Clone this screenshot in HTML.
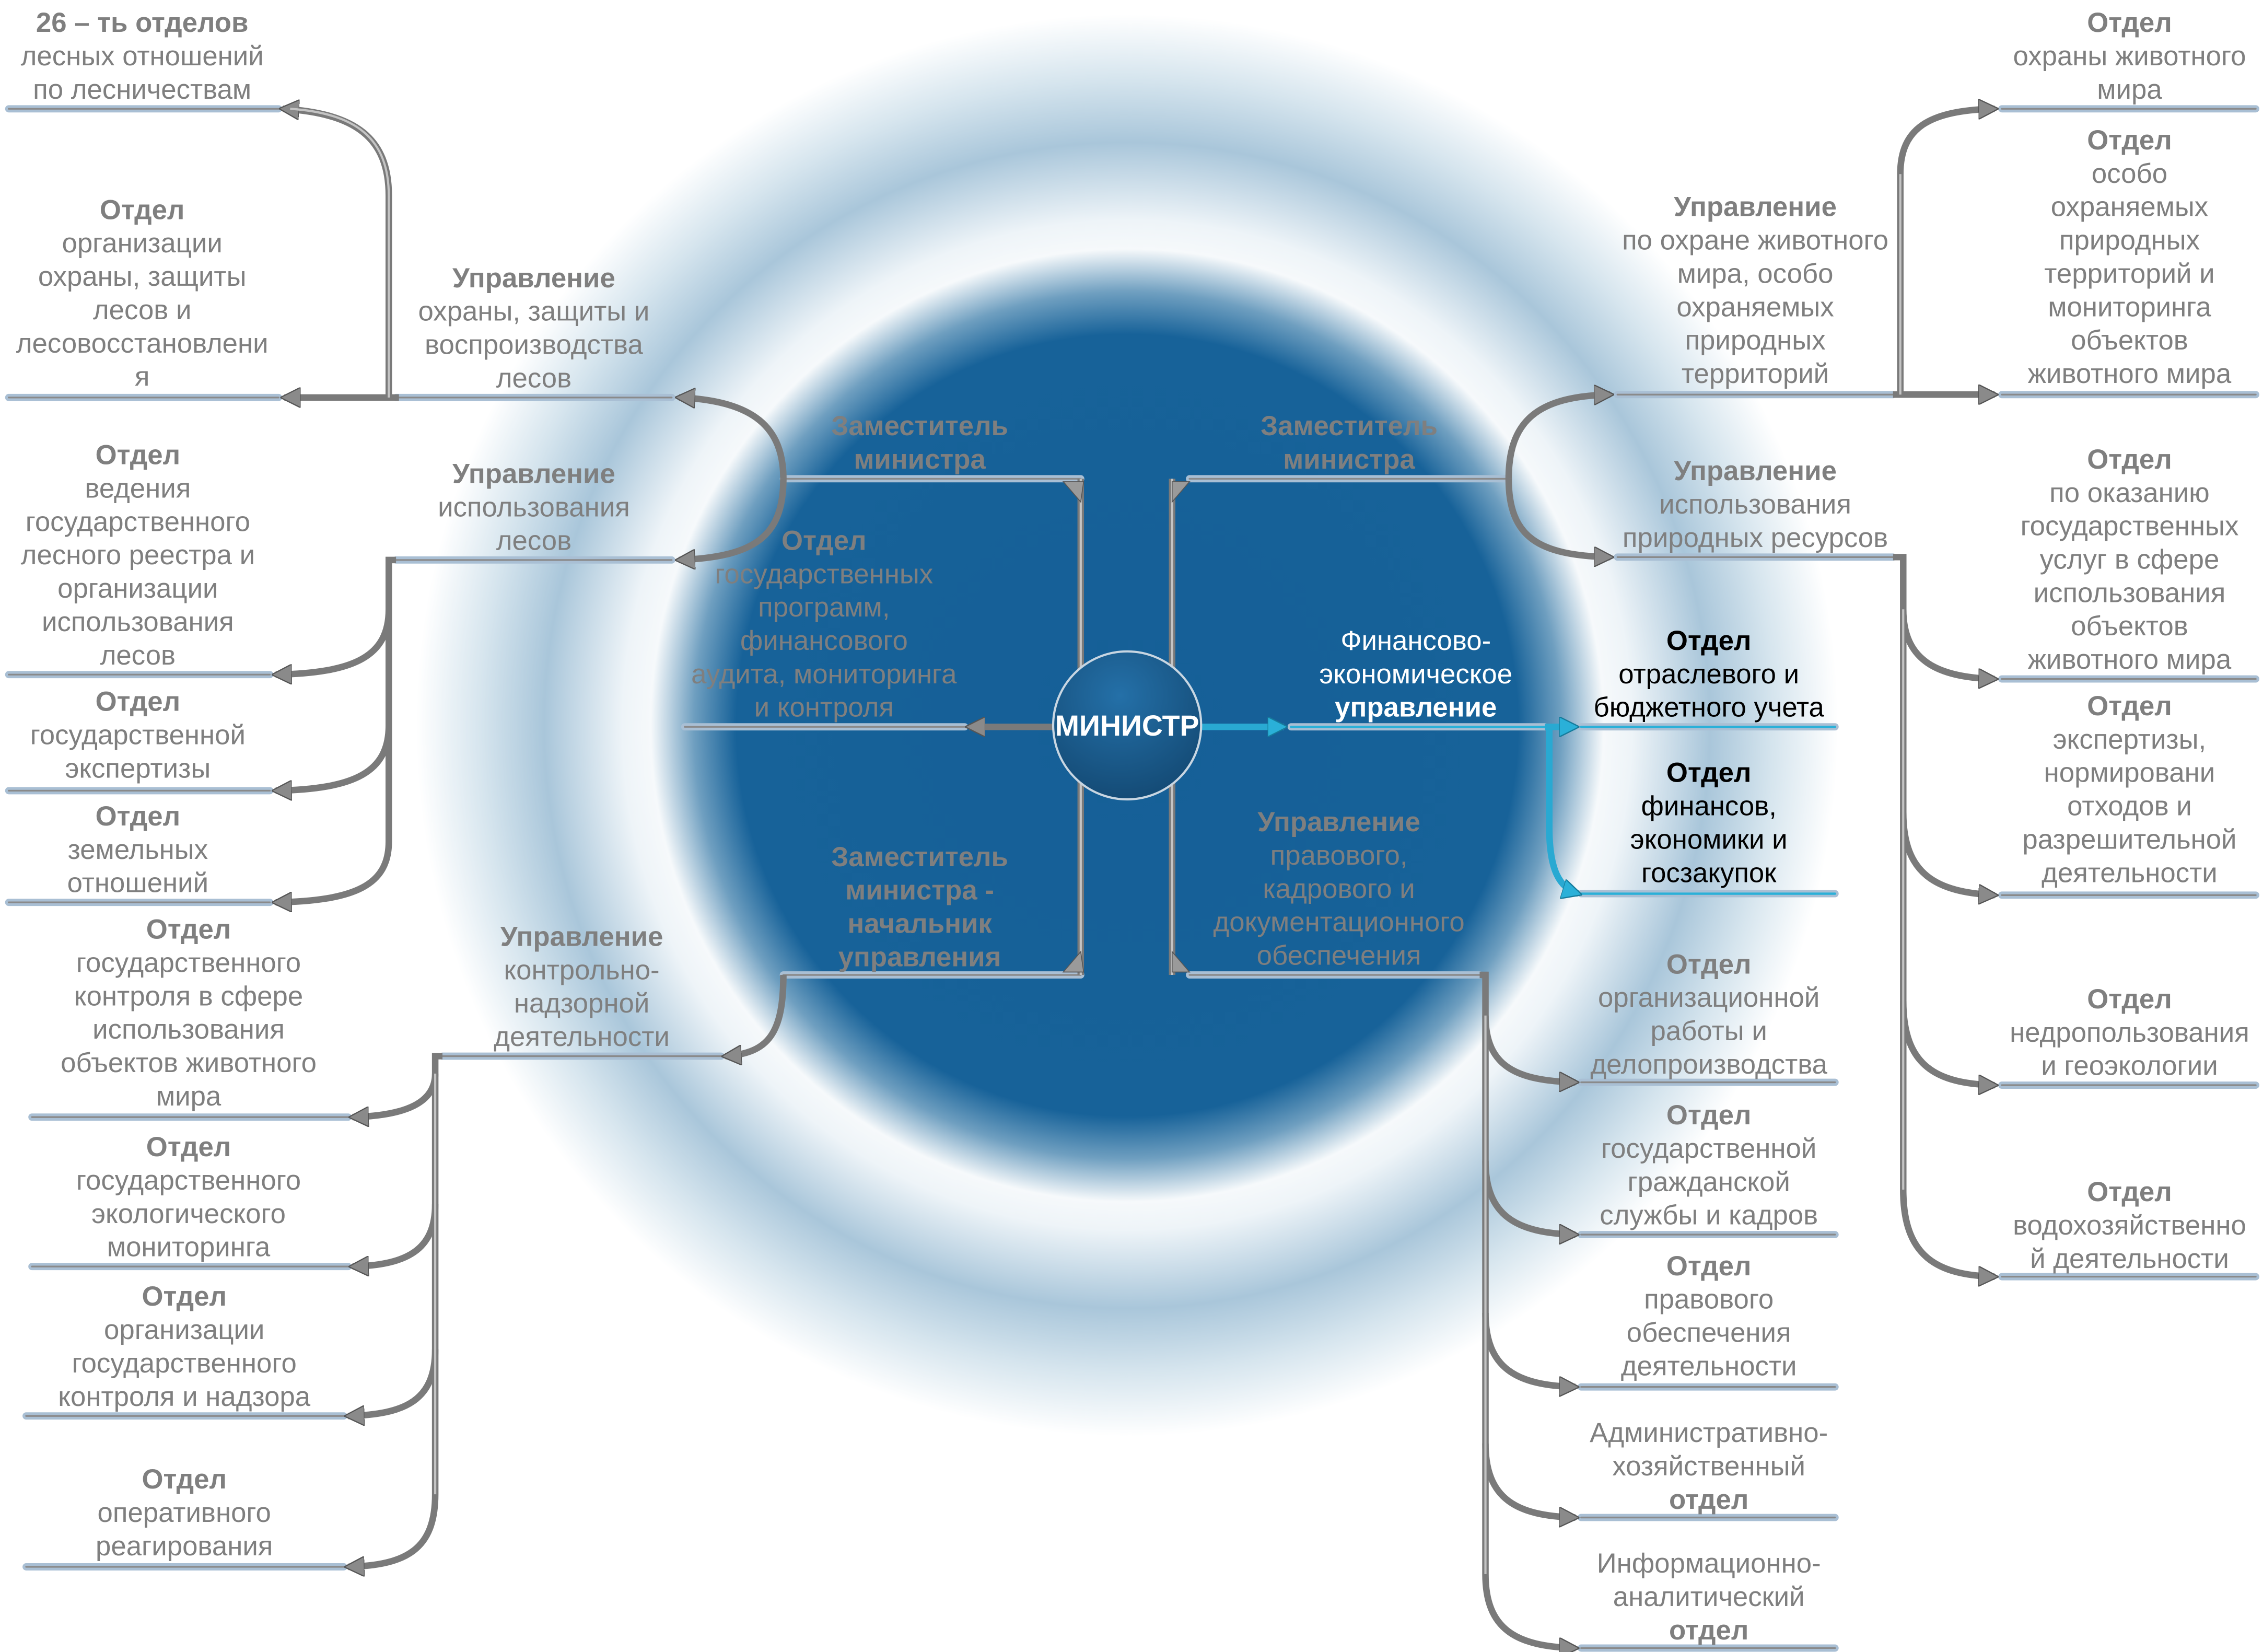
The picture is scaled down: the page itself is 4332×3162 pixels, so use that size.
<!DOCTYPE html>
<html><head><meta charset="utf-8"><style>
html,body{margin:0;padding:0;background:#fff}
svg{display:block}
text{font-family:"Liberation Sans Narrow","Liberation Sans",sans-serif;font-size:19px;fill:#7f7f7f;text-anchor:middle}
.b{font-weight:bold}
.w{fill:#fff}
.k{fill:#000}
</style></head><body>
<svg width="4332" height="3162" viewBox="0 0 1560 1138.7" xmlns="http://www.w3.org/2000/svg">
<defs>
<radialGradient id="bg" cx="777" cy="500" r="490" gradientUnits="userSpaceOnUse">
<stop offset="0" stop-color="#155f97"/>
<stop offset="0.55" stop-color="#176299"/>
<stop offset="0.61" stop-color="#6f9fc0"/>
<stop offset="0.67" stop-color="#f6f9fb"/>
<stop offset="0.71" stop-color="#eef4f8"/>
<stop offset="0.82" stop-color="#a9c6da"/>
<stop offset="0.91" stop-color="#d6e5ee"/>
<stop offset="1" stop-color="#ffffff"/>
</radialGradient>
<radialGradient id="cg" cx="0.45" cy="0.3" r="0.8">
<stop offset="0" stop-color="#2470a8"/><stop offset="1" stop-color="#12466f"/>
</radialGradient>
<marker id="ar" viewBox="0 0 10 10" refX="8" refY="5" markerWidth="14" markerHeight="14" markerUnits="userSpaceOnUse" orient="auto">
<path d="M0,0 L10,5 L0,10 z" fill="#8a8a8a" stroke="#555" stroke-width="0.6"/>
</marker>
<marker id="ac" viewBox="0 0 10 10" refX="8" refY="5" markerWidth="14" markerHeight="14" markerUnits="userSpaceOnUse" orient="auto">
<path d="M0,0 L10,5 L0,10 z" fill="#2ab0d8" stroke="#157a9a" stroke-width="0.6"/>
</marker>
</defs>
<rect width="1560" height="1139" fill="#fff"/>
<circle cx="777" cy="500" r="490" fill="url(#bg)"/>

<g stroke-linecap="round">
<g stroke="#a9bfd4" stroke-width="5">
<path d="M6,75H192M6,274H192M273,274H463M273,386H463M6,465H186M6,545H186M6,622H186M472,501H665M540,330H745M540,672H745M305,728H497M22,770H240M22,873H240M18,976H237M18,1080H237
M820,330H1040M1115,272H1305M1115,384H1305M1380,75H1555M1380,272H1555M1380,468H1555M1380,617H1555M1380,748H1555M1380,880H1555M890,501H1065M1090,501H1265M1090,616H1265M820,672H1020M1090,746H1265M1090,851H1265M1090,956H1265M1090,1046H1265M1090,1136H1265"/>
</g>
<g stroke="#8a8a8a" stroke-width="1.2">
<path d="M6,75H192M6,274H192M273,274H463M273,386H463M6,465H186M6,545H186M6,622H186M472,501H665M540,330H745M540,672H745M305,728H497M22,770H240M22,873H240M18,976H237M18,1080H237
M820,330H1040M1115,272H1305M1115,384H1305M1380,75H1555M1380,272H1555M1380,468H1555M1380,617H1555M1380,748H1555M1380,880H1555M820,672H1020M1090,746H1265M1090,851H1265M1090,956H1265M1090,1046H1265M1090,1136H1265"/>
</g>
<path d="M890,501H1065M1090,501H1265M1090,616H1265" stroke="#2ab0d8" stroke-width="1.6"/>
</g>

<g fill="none" stroke="#7a7a7a" stroke-width="4.5">
<path d="M745,330V672M808,330V672"/>
<path d="M268,274V135C268,95 245,78 195,75" marker-end="url(#ar)"/>
<path d="M275,274H196" marker-end="url(#ar)"/>
<path d="M540,330C540,295 520,276 468,274" marker-end="url(#ar)"/>
<path d="M540,330C540,370 520,384 468,386" marker-end="url(#ar)"/>
<path d="M273,386H268V420C268,452 245,464 190,465" marker-end="url(#ar)"/>
<path d="M268,400V500C268,532 245,544 190,545" marker-end="url(#ar)"/>
<path d="M268,480V580C268,610 245,621 190,622" marker-end="url(#ar)"/>
<path d="M726,501H668" marker-end="url(#ar)"/>
<path d="M540,672C540,712 530,726 500,728" marker-end="url(#ar)"/>
<path d="M305,728H300V740C300,760 280,769 243,770" marker-end="url(#ar)"/>
<path d="M300,740V830C300,862 280,872 243,873" marker-end="url(#ar)"/>
<path d="M300,830V930C300,965 280,975 240,976" marker-end="url(#ar)"/>
<path d="M300,930V1030C300,1068 280,1079 240,1080" marker-end="url(#ar)"/>
<path d="M1040,330C1040,290 1060,273 1110,272" marker-end="url(#ar)"/>
<path d="M1040,330C1040,370 1060,383 1110,384" marker-end="url(#ar)"/>
<path d="M1305,272H1310V120C1310,88 1330,76 1375,75" marker-end="url(#ar)"/>
<path d="M1305,272H1375" marker-end="url(#ar)"/>
<path d="M1305,384H1312V420C1312,455 1335,467 1375,468" marker-end="url(#ar)"/>
<path d="M1312,420V560C1312,603 1335,615 1375,617" marker-end="url(#ar)"/>
<path d="M1312,560V690C1312,735 1335,747 1375,748" marker-end="url(#ar)"/>
<path d="M1312,690V820C1312,866 1335,879 1375,880" marker-end="url(#ar)"/>
<path d="M1020,672H1024V700C1024,735 1045,745 1086,746" marker-end="url(#ar)"/>
<path d="M1024,700V800C1024,838 1045,850 1086,851" marker-end="url(#ar)"/>
<path d="M1024,800V905C1024,943 1045,955 1086,956" marker-end="url(#ar)"/>
<path d="M1024,905V995C1024,1033 1045,1045 1086,1046" marker-end="url(#ar)"/>
<path d="M1024,995V1085C1024,1123 1045,1135 1086,1136" marker-end="url(#ar)"/>
</g>
<g fill="none" stroke="#c4c4c4" stroke-width="1.5">
<path d="M745,330V672M808,330V672M268,274V135C268,95 245,78 200,75M300,740V1030M1312,420V820M1024,700V1085M1310,272V120"/>
</g>
<path d="M733,332L747,332L745,346z" fill="#9a9a9a" stroke="#555" stroke-width="0.6"/>
<path d="M820,332L808,332L808,346z" fill="#9a9a9a" stroke="#555" stroke-width="0.6"/>
<path d="M733,670L747,670L745,656z" fill="#9a9a9a" stroke="#555" stroke-width="0.6"/>
<path d="M820,670L808,670L808,656z" fill="#9a9a9a" stroke="#555" stroke-width="0.6"/>

<g fill="none" stroke="#29a9d2" stroke-width="4.5">
<path d="M828,501H885" marker-end="url(#ac)"/>
<path d="M1065,501H1086" marker-end="url(#ac)"/>
<path d="M1068,503V570C1068,600 1075,612 1088,616" marker-end="url(#ac)"/>
</g>

<circle cx="777" cy="500" r="51" fill="url(#cg)" stroke="#c8d6e2" stroke-width="1.5"/>
<text x="777" y="507" class="b w" style="font-size:20px">МИНИСТР</text>

<text x="98" y="22"><tspan class="b">26 – ть отделов</tspan><tspan x="98" dy="23">лесных отношений</tspan><tspan x="98" dy="23">по лесничествам</tspan></text>
<text x="98" y="151"><tspan class="b">Отдел</tspan><tspan x="98" dy="23">организации</tspan><tspan x="98" dy="23">охраны, защиты</tspan><tspan x="98" dy="23">лесов и</tspan><tspan x="98" dy="23">лесовосстановлени</tspan><tspan x="98" dy="23">я</tspan></text>
<text x="368" y="198"><tspan class="b">Управление</tspan><tspan x="368" dy="23">охраны, защиты и</tspan><tspan x="368" dy="23">воспроизводства</tspan><tspan x="368" dy="23">лесов</tspan></text>
<text x="634" y="300" class="b"><tspan>Заместитель</tspan><tspan x="634" dy="23">министра</tspan></text>
<text x="368" y="333"><tspan class="b">Управление</tspan><tspan x="368" dy="23">использования</tspan><tspan x="368" dy="23">лесов</tspan></text>
<text x="95" y="320"><tspan class="b">Отдел</tspan><tspan x="95" dy="23">ведения</tspan><tspan x="95" dy="23">государственного</tspan><tspan x="95" dy="23">лесного реестра и</tspan><tspan x="95" dy="23">организации</tspan><tspan x="95" dy="23">использования</tspan><tspan x="95" dy="23">лесов</tspan></text>
<text x="95" y="490"><tspan class="b">Отдел</tspan><tspan x="95" dy="23">государственной</tspan><tspan x="95" dy="23">экспертизы</tspan></text>
<text x="95" y="569"><tspan class="b">Отдел</tspan><tspan x="95" dy="23">земельных</tspan><tspan x="95" dy="23">отношений</tspan></text>
<text x="568" y="379"><tspan class="b">Отдел</tspan><tspan x="568" dy="23">государственных</tspan><tspan x="568" dy="23">программ,</tspan><tspan x="568" dy="23">финансового</tspan><tspan x="568" dy="23">аудита, мониторинга</tspan><tspan x="568" dy="23">и контроля</tspan></text>
<text x="634" y="597" class="b"><tspan>Заместитель</tspan><tspan x="634" dy="23">министра -</tspan><tspan x="634" dy="23">начальник</tspan><tspan x="634" dy="23">управления</tspan></text>
<text x="401" y="652"><tspan class="b">Управление</tspan><tspan x="401" dy="23">контрольно-</tspan><tspan x="401" dy="23">надзорной</tspan><tspan x="401" dy="23">деятельности</tspan></text>
<text x="130" y="647"><tspan class="b">Отдел</tspan><tspan x="130" dy="23">государственного</tspan><tspan x="130" dy="23">контроля в сфере</tspan><tspan x="130" dy="23">использования</tspan><tspan x="130" dy="23">объектов животного</tspan><tspan x="130" dy="23">мира</tspan></text>
<text x="130" y="797"><tspan class="b">Отдел</tspan><tspan x="130" dy="23">государственного</tspan><tspan x="130" dy="23">экологического</tspan><tspan x="130" dy="23">мониторинга</tspan></text>
<text x="127" y="900"><tspan class="b">Отдел</tspan><tspan x="127" dy="23">организации</tspan><tspan x="127" dy="23">государственного</tspan><tspan x="127" dy="23">контроля и надзора</tspan></text>
<text x="127" y="1026"><tspan class="b">Отдел</tspan><tspan x="127" dy="23">оперативного</tspan><tspan x="127" dy="23">реагирования</tspan></text>

<text x="930" y="300" class="b"><tspan>Заместитель</tspan><tspan x="930" dy="23">министра</tspan></text>
<text x="1210" y="149"><tspan class="b">Управление</tspan><tspan x="1210" dy="23">по охране животного</tspan><tspan x="1210" dy="23">мира, особо</tspan><tspan x="1210" dy="23">охраняемых</tspan><tspan x="1210" dy="23">природных</tspan><tspan x="1210" dy="23">территорий</tspan></text>
<text x="1210" y="331"><tspan class="b">Управление</tspan><tspan x="1210" dy="23">использования</tspan><tspan x="1210" dy="23">природных ресурсов</tspan></text>
<text x="1468" y="22"><tspan class="b">Отдел</tspan><tspan x="1468" dy="23">охраны животного</tspan><tspan x="1468" dy="23">мира</tspan></text>
<text x="1468" y="103"><tspan class="b">Отдел</tspan><tspan x="1468" dy="23">особо</tspan><tspan x="1468" dy="23">охраняемых</tspan><tspan x="1468" dy="23">природных</tspan><tspan x="1468" dy="23">территорий и</tspan><tspan x="1468" dy="23">мониторинга</tspan><tspan x="1468" dy="23">объектов</tspan><tspan x="1468" dy="23">животного мира</tspan></text>
<text x="1468" y="323"><tspan class="b">Отдел</tspan><tspan x="1468" dy="23">по оказанию</tspan><tspan x="1468" dy="23">государственных</tspan><tspan x="1468" dy="23">услуг в сфере</tspan><tspan x="1468" dy="23">использования</tspan><tspan x="1468" dy="23">объектов</tspan><tspan x="1468" dy="23">животного мира</tspan></text>
<text x="1468" y="493"><tspan class="b">Отдел</tspan><tspan x="1468" dy="23">экспертизы,</tspan><tspan x="1468" dy="23">нормировани</tspan><tspan x="1468" dy="23">отходов и</tspan><tspan x="1468" dy="23">разрешительной</tspan><tspan x="1468" dy="23">деятельности</tspan></text>
<text x="1468" y="695"><tspan class="b">Отдел</tspan><tspan x="1468" dy="23">недропользования</tspan><tspan x="1468" dy="23">и геоэкологии</tspan></text>
<text x="1468" y="828"><tspan class="b">Отдел</tspan><tspan x="1468" dy="23">водохозяйственно</tspan><tspan x="1468" dy="23">й деятельности</tspan></text>
<text x="976" y="448" class="w"><tspan>Финансово-</tspan><tspan x="976" dy="23">экономическое</tspan><tspan x="976" dy="23" class="b">управление</tspan></text>
<text x="1178" y="448" class="k"><tspan class="b">Отдел</tspan><tspan x="1178" dy="23">отраслевого и</tspan><tspan x="1178" dy="23">бюджетного учета</tspan></text>
<text x="1178" y="539" class="k"><tspan class="b">Отдел</tspan><tspan x="1178" dy="23">финансов,</tspan><tspan x="1178" dy="23">экономики и</tspan><tspan x="1178" dy="23">госзакупок</tspan></text>
<text x="923" y="573"><tspan class="b">Управление</tspan><tspan x="923" dy="23">правового,</tspan><tspan x="923" dy="23">кадрового и</tspan><tspan x="923" dy="23">документационного</tspan><tspan x="923" dy="23">обеспечения</tspan></text>
<text x="1178" y="671"><tspan class="b">Отдел</tspan><tspan x="1178" dy="23">организационной</tspan><tspan x="1178" dy="23">работы и</tspan><tspan x="1178" dy="23">делопроизводства</tspan></text>
<text x="1178" y="775"><tspan class="b">Отдел</tspan><tspan x="1178" dy="23">государственной</tspan><tspan x="1178" dy="23">гражданской</tspan><tspan x="1178" dy="23">службы и кадров</tspan></text>
<text x="1178" y="879"><tspan class="b">Отдел</tspan><tspan x="1178" dy="23">правового</tspan><tspan x="1178" dy="23">обеспечения</tspan><tspan x="1178" dy="23">деятельности</tspan></text>
<text x="1178" y="994"><tspan>Административно-</tspan><tspan x="1178" dy="23">хозяйственный</tspan><tspan x="1178" dy="23" class="b">отдел</tspan></text>
<text x="1178" y="1084"><tspan>Информационно-</tspan><tspan x="1178" dy="23">аналитический</tspan><tspan x="1178" dy="23" class="b">отдел</tspan></text>
</svg>
</body></html>
